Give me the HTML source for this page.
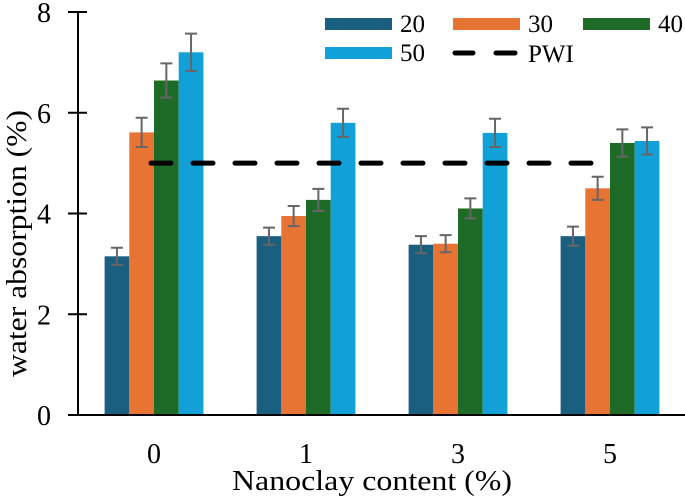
<!DOCTYPE html>
<html><head><meta charset="utf-8"><style>
body{margin:0;background:#fff}
svg{display:block}
text{font-family:"Liberation Serif",serif;fill:#000}
</style></head><body>
<svg id="chart" width="685" height="500" viewBox="0 0 685 500" xmlns="http://www.w3.org/2000/svg">
<g id="bars"></g>
<g id="axes"></g>
<g id="legend"></g>
</svg>
<script>
const categories = ["0","1","3","5"];
const seriesNames = ["20","30","40","50"];
const s20 = [3.15,3.55,3.38,3.55];
const s30 = [5.61,3.95,3.4,4.5];
const s40 = [6.64,4.27,4.1,5.4];
const s50 = [7.2,5.8,5.6,5.44];
const e20 = [0.17,0.17,0.17,0.19];
const e30 = [0.29,0.2,0.17,0.23];
const e40 = [0.34,0.22,0.2,0.27];
const e50 = [0.37,0.28,0.28,0.27];
const pwiValue = 5;
const yTicks = [0,2,4,6,8];

const colors = ["#1a5f80","#e87434","#1d6b27","#12a0d8"];
const NS="http://www.w3.org/2000/svg";
const y0=415, yTop=12, yMax=8;
const yScale=v=>y0-(v/yMax)*(y0-yTop);
const xCenter=i=>154+i*152;
const bw=24.7;
function mk(tag,attrs,parent,txt){const e=document.createElementNS(NS,tag);for(const k in attrs)e.setAttribute(k,attrs[k]);if(txt!==undefined)e.textContent=txt;parent.appendChild(e);return e;}
const bars=document.getElementById('bars'),axes=document.getElementById('axes'),legend=document.getElementById('legend');
const series=[s20,s30,s40,s50], errs=[e20,e30,e40,e50];
categories.forEach((c,i)=>{
  series.forEach((s,j)=>{
    const x=xCenter(i)-2*bw+j*bw;
    const r=mk('rect',{x:x,y:yScale(s[i]),width:bw,height:y0-yScale(s[i]),fill:colors[j]},bars);
    
    
    const cx=x+bw/2, t=yScale(s[i]+errs[j][i]), b=yScale(s[i]-errs[j][i]);
    const g=mk('path',{d:`M${cx-6},${t}H${cx+6}M${cx},${t}V${b}M${cx-6},${b}H${cx+6}`,stroke:'#666','stroke-width':2,fill:'none'},bars);
    
    
  });
  const lbl=mk('text',{x:xCenter(i),y:463,'text-anchor':'middle','font-size':28},axes,c);
  
  
});
const pwi=mk('line',{x1:151,x2:594,y1:yScale(pwiValue),y2:yScale(pwiValue),stroke:'#000','stroke-width':5,'stroke-linecap':'round','stroke-dasharray':'20 22'},bars);


const xa=mk('line',{x1:68,x2:685,y1:y0,y2:y0,stroke:'#000','stroke-width':2},axes);


const ya=mk('line',{x1:78,x2:78,y1:yTop,y2:y0,stroke:'#000','stroke-width':2},axes);


yTicks.forEach(v=>{
  const tk=mk('line',{x1:68,x2:87,y1:yScale(v),y2:yScale(v),stroke:'#000','stroke-width':2},axes);
  
  
  const tl=mk('text',{x:51,y:yScale(v)+10,'text-anchor':'end','font-size':28},axes,v);
  
  
});
const xt=mk('text',{x:232,y:490,'font-size':28,textLength:280,lengthAdjust:'spacingAndGlyphs'},axes,'Nanoclay content (%)');


const yt=mk('text',{x:0,y:0,'font-size':28,textLength:267,lengthAdjust:'spacingAndGlyphs',transform:'translate(26,377) rotate(-90)'},axes,'water absorption (%)');


const legPos=[[325,18],[453,18],[583,18],[325,47]];
seriesNames.forEach((n,j)=>{
  const [x,y]=legPos[j];
  const sw=mk('rect',{x:x,y:y,width:67,height:12,fill:colors[j]},legend);
  
  
  const lt=mk('text',{x:x+75,y:y+14,'font-size':25},legend,n);
  
  
});
const ld=mk('path',{d:'M455,53H473M496,53H515',stroke:'#000','stroke-width':5,'stroke-linecap':'round'},legend);


const lp=mk('text',{x:528,y:62,'font-size':25},legend,'PWI');


</script>
</body></html>
